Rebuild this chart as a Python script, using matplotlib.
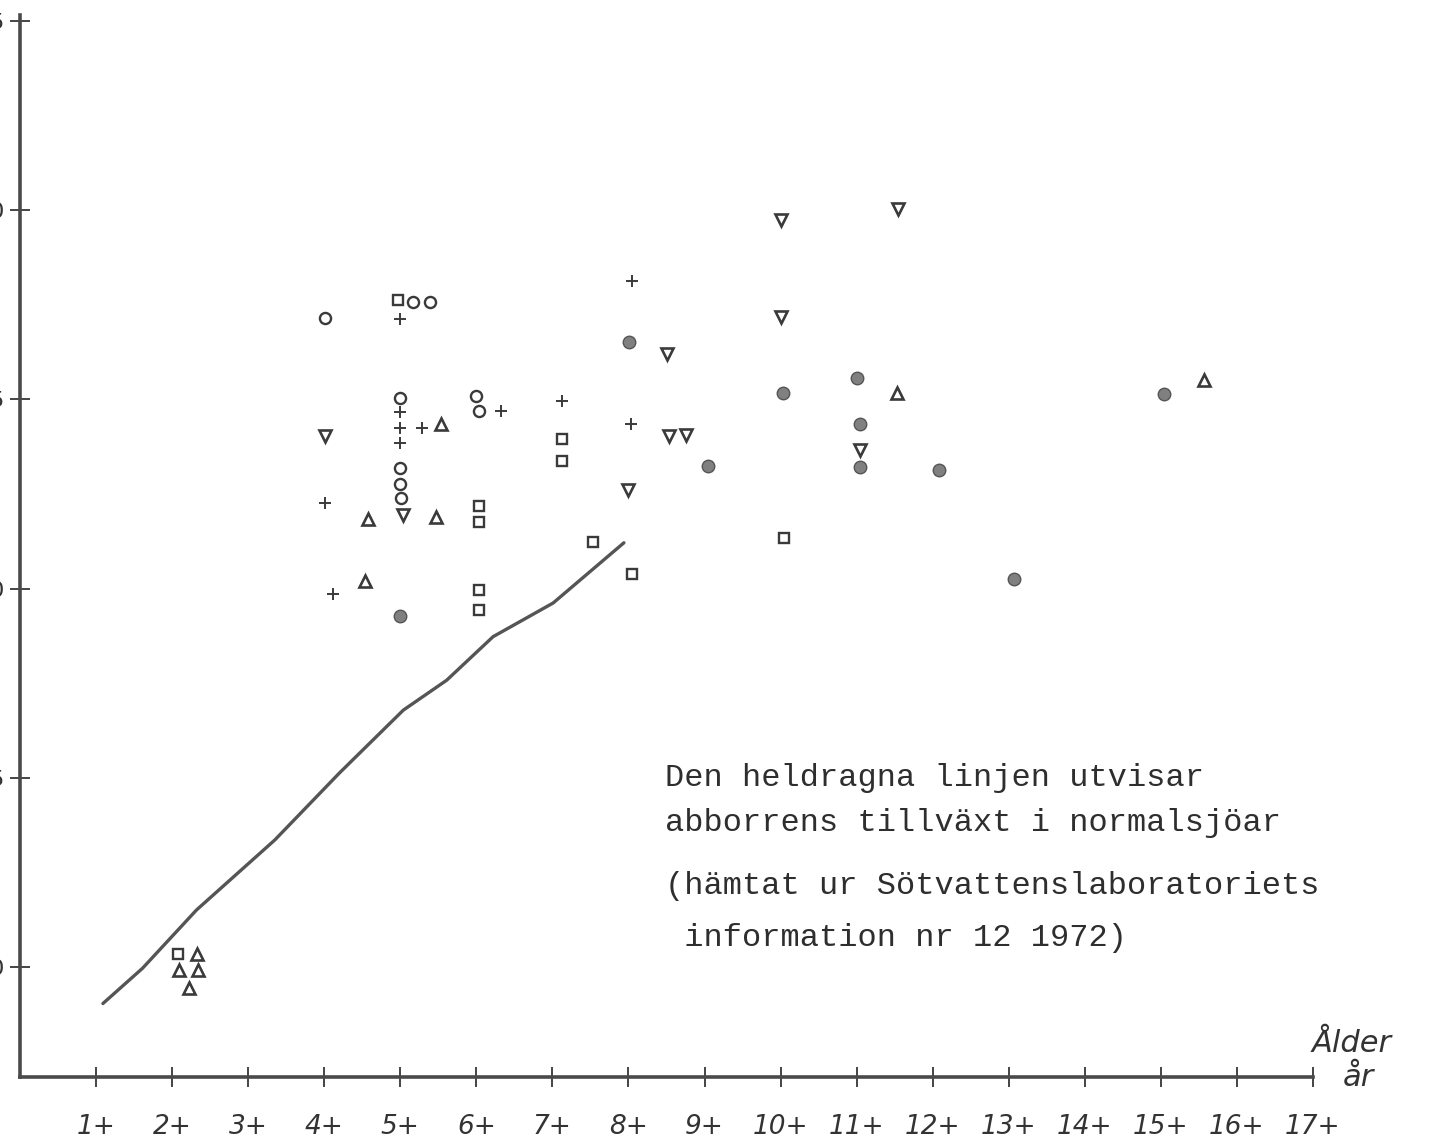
import matplotlib.pyplot as plt

# Ålder (år) mot längd, läst ur diagrammet
age_ticks = list(range(1, 18))
age_labels = [f"{a}+" for a in age_ticks]
len_ticks = [10, 15, 20, 25, 30, 35]
len_labels = ["10", "15", "20", "25", "30", "35"]

# normal tillväxtkurva (heldragen linje)
curve_x = [1.09, 1.61, 2.32, 3.35, 4.20, 5.04, 5.61, 6.22, 7.01, 7.94]
curve_y = [9.04, 9.97, 11.51, 13.36, 15.13, 16.79, 17.58, 18.73, 19.62, 21.21]

circle_x = [4.01, 5.17, 5.39, 5.00, 5.00, 5.00, 5.01, 6.00, 6.04]
circle_y = [27.15, 27.57, 27.57, 25.03, 23.18, 22.76, 22.39, 25.09, 24.69]

plus_x = [5.00, 5.00, 5.00, 5.00, 5.29, 6.32, 4.01, 4.12, 7.13, 8.04, 8.03]
plus_y = [27.12, 24.66, 24.24, 23.84, 24.24, 24.69, 22.26, 19.85, 24.95, 28.12, 24.35]

tri_up_x = [5.53, 4.57, 5.47, 4.54, 11.53, 15.57, 2.33, 2.09, 2.34, 2.22]
tri_up_y = [24.35, 21.84, 21.89, 20.20, 25.17, 25.51, 10.34, 9.92, 9.92, 9.45]

tri_down_x = [4.01, 5.04, 8.00, 8.51, 8.53, 8.76, 10.01, 10.00, 11.54, 11.04]
tri_down_y = [24.03, 21.94, 22.60, 26.20, 24.03, 24.06, 29.74, 27.17, 30.03, 23.66]

square_x = [4.97, 6.03, 6.03, 6.03, 6.03, 7.12, 7.12, 7.53, 8.04, 10.04, 2.08]
square_y = [27.62, 22.18, 21.76, 19.96, 19.43, 23.95, 23.37, 21.23, 20.38, 21.33, 10.34]

dot_x = [4.99, 8.01, 9.04, 10.03, 11.01, 11.04, 11.05, 12.08, 13.07, 15.04]
dot_y = [19.27, 26.51, 23.24, 25.17, 25.56, 24.35, 23.21, 23.13, 20.25, 25.14]

note_lines = ["Den heldragna linjen utvisar",
              "abborrens tillväxt i normalsjöar",
              "(hämtat ur Sötvattenslaboratoriets",
              " information nr 12 1972)"]

W, H = 1430, 1143
fig = plt.figure(figsize=(W / 100, H / 100), dpi=100)
ax = fig.add_axes([20 / W, (H - 1077) / H, (1313 - 20) / W, (1077 - 15) / H])

ink = "#3a3a3a"
ax.plot(curve_x, curve_y, color="#555555", lw=2.4, solid_capstyle="round",
        solid_joinstyle="round")

ms = 8
ax.plot(circle_x, circle_y, "o", ms=ms, mfc="none", mec=ink, mew=1.7)
ax.plot(plus_x, plus_y, "+", ms=ms + 1, mec=ink, mew=1.4)
ax.plot(tri_up_x, tri_up_y, "^", ms=ms, mfc="none", mec=ink, mew=1.9)
ax.plot(tri_down_x, tri_down_y, "v", ms=ms, mfc="none", mec=ink, mew=1.9)
ax.plot(square_x, square_y, "s", ms=ms - 0.5, mfc="none", mec=ink, mew=1.7)
ax.plot(dot_x, dot_y, "o", ms=ms + 1, mfc="#808080", mec="#555555", mew=1.0)

ax.set_xlim(0, 17)
ax.set_ylim(7.1, 35.15)
for s in ["top", "right"]:
    ax.spines[s].set_visible(False)
for s in ["left", "bottom"]:
    ax.spines[s].set_linewidth(2.6)
    ax.spines[s].set_color("#4a4a4a")

ax.set_xticks(age_ticks)
ax.set_xticklabels(age_labels, fontsize=19, fontstyle="italic", color="#333333")
ax.set_yticks(len_ticks)
ax.set_yticklabels(len_labels, fontsize=16, color="#333333")
ax.tick_params(axis="x", direction="inout", length=14, width=1.4, color="#444444", pad=20)
ax.tick_params(axis="y", direction="inout", length=14, width=1.4, color="#444444", pad=4)

fig.text(1312 / W, 1 - 1043 / H, "Ålder", fontsize=22, fontstyle="italic",
         color="#333333", va="center", ha="left")
fig.text(1343 / W, 1 - 1077 / H, "år", fontsize=22, fontstyle="italic",
         color="#333333", va="center", ha="left")

for txt, yp in zip(note_lines, [778, 823, 886, 938]):
    fig.text(665 / W, 1 - yp / H, txt, fontsize=23, family="Liberation Mono",
             color="#2e2e2e", va="center", ha="left")

fig.savefig("out.png", dpi=100, facecolor="white")
